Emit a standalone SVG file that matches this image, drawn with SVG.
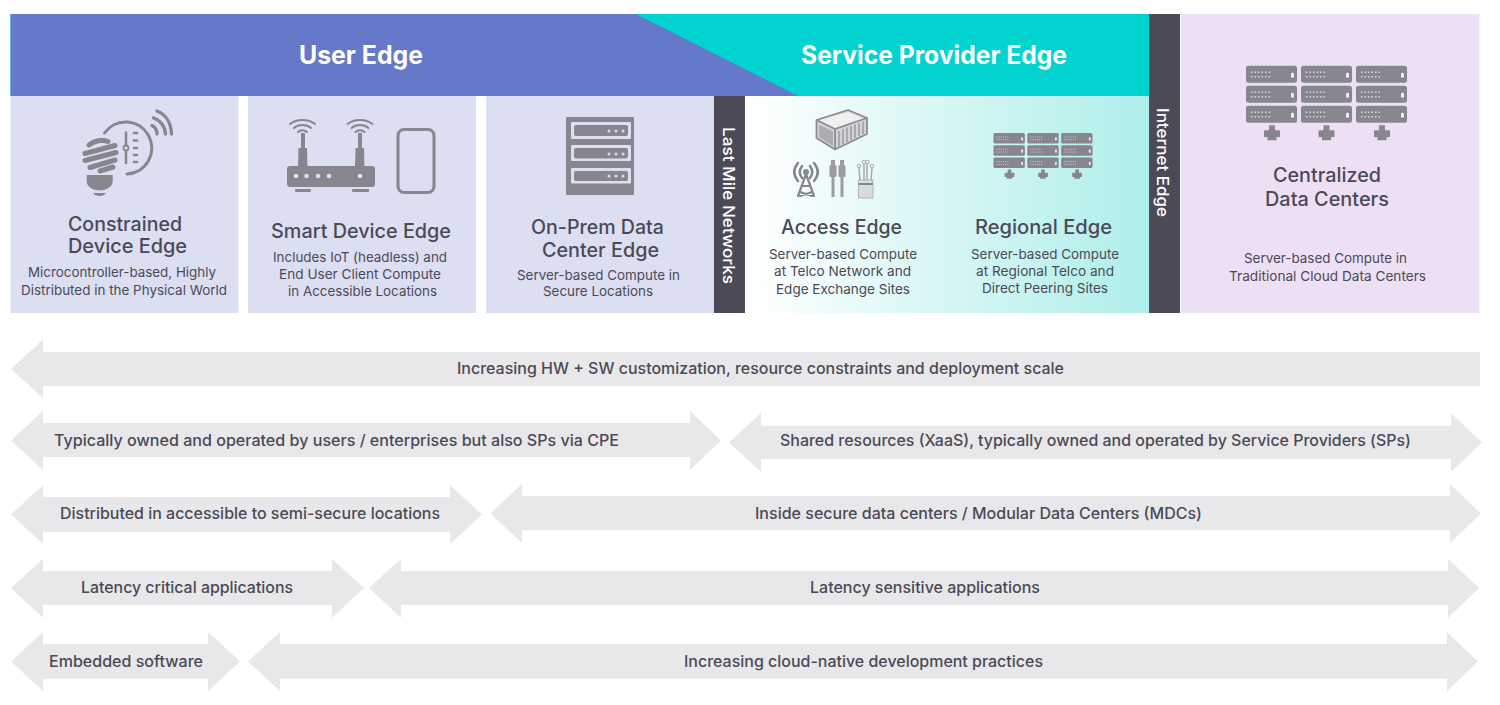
<svg xmlns="http://www.w3.org/2000/svg" width="1500" height="705" viewBox="0 0 1500 705">
<style>
text{font-family:"Inter","Liberation Sans",sans-serif;fill:#4b4956}
.h{font-size:19.5px;font-weight:500}
.s{font-size:13.6px;font-weight:400}
.a{font-size:15.6px;font-weight:500}
.t{font-size:25px;font-weight:700;fill:#fff}
.v{font-size:16.500px;font-weight:500;fill:#fff}
.arrow{fill:#e8e8ea}
.card{fill:#dcdff2}
.dark{fill:#4c4a57}
.ic{fill:#87868e}
.st{fill:none;stroke:#87868e;stroke-linecap:round}
</style>
<defs>
<linearGradient id="sp" x1="0" x2="1" y1="0" y2="0"><stop offset="0" stop-color="#fff"/><stop offset="1" stop-color="#aeeeea"/></linearGradient>
<g id="unit">
<rect width="51" height="17" rx="2.500" class="ic"/>
<path d="M5 6.500H25M5 11H25" stroke="#d9d4de" stroke-width="1.500" stroke-dasharray="1.500 2" fill="none"/>
<rect x="45" y="7" width="3" height="5" rx="1" fill="#f1e8f6"/>
</g>
<path id="foot" class="ic" d="M-3 0H3V5H7Q8 5 8 6V11Q8 12 7 12H4.500V15H-4.500V12H-7Q-8 12 -8 11V6Q-8 5 -7 5H-3Z"/>
<g id="rack">
<use href="#unit" x="0" y="0"/><use href="#unit" x="55" y="0"/><use href="#unit" x="110" y="0"/>
<use href="#unit" x="0" y="20"/><use href="#unit" x="55" y="20"/><use href="#unit" x="110" y="20"/>
<use href="#unit" x="0" y="40"/><use href="#unit" x="55" y="40"/><use href="#unit" x="110" y="40"/>
<use href="#foot" x="26" y="59.500"/><use href="#foot" x="80.500" y="59.500"/><use href="#foot" x="136" y="59.500"/>
</g>
<g id="wifi" class="st" stroke-width="2">
<path d="M-12.500 -9C-6 -14.500 6 -14.500 12.500 -9"/>
<path d="M-8.500 -5C-4 -9 4 -9 8.500 -5"/>
<path d="M-4.500 -1C-2 -3.500 2 -3.500 4.500 -1"/>
</g>
</defs>

<g id="band-user-service">
<rect x="10.500" y="14" width="1138.500" height="82" fill="#00d3d0"/>
<path d="M10.500 14H636L798 96H10.500Z" fill="#6578c9"/>
</g>

<g id="user-edge"><text class="t" x="299" y="64" textLength="124" lengthAdjust="spacingAndGlyphs">User Edge</text></g>
<g id="service-provider-edge"><text class="t" x="801" y="64" textLength="266" lengthAdjust="spacingAndGlyphs">Service Provider Edge</text></g>

<g id="constrained-device-edge">
<rect class="card" x="10.500" y="96" width="228" height="217"/>
<path class="ic" d="M86.700 175H112.700V181C112.700 187 106 190.500 99.700 190.500C93 190.500 86.700 187 86.700 181Z"/>
<path class="ic" d="M93 193H106C104 197 95 197 93 193Z"/>
<path class="st" stroke-width="5" d="M89 145C94 141 102 139 108 141.500M85 153.500L115 145.500M85 160.500L116 152.500M90 167.500L115 160M100 171L113 167"/>
<path class="st" stroke-width="3" d="M104.500 133A26 26 0 1 1 127 174"/>
<path class="st" stroke-width="2.500" d="M126 132.500V163"/>
<circle cx="126" cy="148" r="2.500" fill="#dcdff2" stroke="#87868e" stroke-width="1.800"/>
<path class="st" stroke-width="2.600" d="M134 133H137M134 140.500H137M134 148H137M134 155H137M134 162H137"/>
<path class="st" stroke-width="3.400" d="M152 125.500C155 127 157 130 157 134M153.500 118C160 120 165 126 165.500 134M157 111C165 114 171 122 171.500 134"/>
<text class="h" x="68" y="231" textLength="114" lengthAdjust="spacingAndGlyphs">Constrained</text>
<text class="h" x="68" y="253" textLength="119" lengthAdjust="spacingAndGlyphs">Device Edge</text>
<text class="s" x="28" y="277" textLength="188" lengthAdjust="spacingAndGlyphs">Microcontroller-based, Highly</text>
<text class="s" x="21" y="294.500" textLength="206" lengthAdjust="spacingAndGlyphs">Distributed in the Physical World</text>
</g>

<g id="smart-device-edge">
<rect class="card" x="248" y="96" width="228" height="217"/>
<use href="#wifi" x="302.500" y="133"/><use href="#wifi" x="360" y="133"/>
<path class="ic" d="M301 133H305V148H307L307.500 167H298L298.500 148H301ZM358 133H362V148H364L364.500 167H355L355.500 148H358Z"/>
<rect class="ic" x="287" y="166" width="88" height="21" rx="3"/>
<g fill="#dcdff2"><circle cx="296" cy="176" r="2.300"/><circle cx="306.500" cy="176" r="2.300"/><circle cx="318" cy="176" r="2.300"/><circle cx="329" cy="176" r="2.300"/><circle cx="360" cy="176" r="2.300"/></g>
<rect class="ic" x="295" y="189" width="16" height="3" rx="1"/><rect class="ic" x="352" y="189" width="17" height="3" rx="1"/>
<rect x="398" y="129.500" width="36" height="63" rx="6" fill="none" stroke="#87868e" stroke-width="3"/>
<text class="h" x="271" y="238" textLength="180" lengthAdjust="spacingAndGlyphs">Smart Device Edge</text>
<text class="s" x="273" y="262" textLength="174" lengthAdjust="spacingAndGlyphs">Includes IoT (headless) and</text>
<text class="s" x="279" y="279" textLength="162" lengthAdjust="spacingAndGlyphs">End User Client Compute</text>
<text class="s" x="288" y="296" textLength="149" lengthAdjust="spacingAndGlyphs">in Accessible Locations</text>
</g>

<g id="on-prem-data-center-edge">
<rect class="card" x="486" y="96" width="228" height="217"/>
<rect class="ic" x="566" y="117" width="68" height="78" rx="1"/>
<g fill="#dcdff2"><rect x="571" y="122" width="60" height="17" rx="1"/><rect x="571" y="145" width="60" height="16" rx="1"/><rect x="571" y="168" width="60" height="15.500" rx="1"/></g>
<g class="ic"><rect x="574" y="125" width="54" height="11" rx="2"/><rect x="574" y="148" width="54" height="10.500" rx="2"/><rect x="574" y="171" width="54" height="10" rx="2"/></g>
<g fill="#dcdff2"><circle cx="609" cy="131" r="1.500"/><circle cx="616" cy="131" r="1.500"/><circle cx="623" cy="131" r="1.500"/><circle cx="609" cy="154" r="1.500"/><circle cx="616" cy="154" r="1.500"/><circle cx="623" cy="154" r="1.500"/><circle cx="609" cy="176" r="1.500"/><circle cx="616" cy="176" r="1.500"/><circle cx="623" cy="176" r="1.500"/></g>
<text class="h" x="531" y="234" textLength="133" lengthAdjust="spacingAndGlyphs">On-Prem Data</text>
<text class="h" x="542" y="257" textLength="117" lengthAdjust="spacingAndGlyphs">Center Edge</text>
<text class="s" x="517" y="280" textLength="163" lengthAdjust="spacingAndGlyphs">Server-based Compute in</text>
<text class="s" x="543" y="296" textLength="110" lengthAdjust="spacingAndGlyphs">Secure Locations</text>
</g>

<g id="last-mile-networks">
<rect class="dark" x="714" y="96" width="31" height="217"/>
<text class="v" transform="translate(723 127) rotate(90)" textLength="157" lengthAdjust="spacingAndGlyphs">Last Mile Networks</text>
</g>

<g id="service-provider-panel"><rect x="745" y="96" width="404" height="217" fill="url(#sp)"/></g>

<g id="access-edge">
<path d="M816.500 120L848 110L867 118V134L835 149.500L816.500 138Z" fill="#d4d4d6" stroke="#8d8c94" stroke-width="1.800" stroke-linejoin="round"/>
<path d="M819 120.500L848 112L864 118.500L835 128Z" fill="#f0f0f1"/>
<path d="M816.500 120L835 129L867 118M835 129V149.500" fill="none" stroke="#8d8c94" stroke-width="1.800"/>
<path d="M819 125L833 131V146L819 137Z" fill="#adacb2"/>
<path d="M839 131V146M843 129V144M847 127.500V142M851 126V140M855 124.500V138M859 123V136M863 121.500V134" stroke="#8d8c94" stroke-width="1.200" fill="none"/>
<path class="st" stroke-width="2.500" d="M798 163C793 169 793 175 798 181M814 163C819 169 819 175 814 181M802 166C799 170 799 174 802 178M810 166C813 170 813 174 810 178"/>
<circle class="ic" cx="806" cy="172" r="3"/>
<path class="st" stroke-width="2.200" d="M806 174L798 196M806 174L814 196M802 186H810M800 192L812 196M812 192L800 196"/>
<g fill="#9c9ba2"><rect x="831" y="160" width="4" height="5"/><rect x="829.500" y="165" width="7" height="12" rx="1.500"/><rect x="840" y="160" width="4" height="5"/><rect x="838.500" y="165" width="7" height="12" rx="1.500"/><rect x="831.500" y="177" width="3" height="20"/><rect x="840.500" y="177" width="3" height="20"/></g>
<rect x="858.500" y="180" width="14.500" height="18" fill="#d9dcdc" stroke="#b4b4b9"/>
<path d="M860 180L859 168M864 180V164M867 180V164M871 180L872 168" stroke="#a8a8ae" stroke-width="1.500" fill="none"/>
<g fill="none" stroke="#a8a8ae" stroke-width="1"><circle cx="859" cy="166" r="1.800"/><circle cx="864" cy="162" r="1.800"/><circle cx="867.500" cy="162" r="1.800"/><circle cx="872" cy="166" r="1.800"/></g>
<path d="M858.500 184H873" stroke="#87868e" stroke-width="2"/>
<text class="h" x="781" y="234" textLength="121" lengthAdjust="spacingAndGlyphs">Access Edge</text>
<text class="s" x="769" y="259" textLength="148" lengthAdjust="spacingAndGlyphs">Server-based Compute</text>
<text class="s" x="774" y="276" textLength="137" lengthAdjust="spacingAndGlyphs">at Telco Network and</text>
<text class="s" x="776" y="294" textLength="134" lengthAdjust="spacingAndGlyphs">Edge Exchange Sites</text>
</g>

<g id="regional-edge">
<use href="#rack" transform="translate(993.500 133) scale(.615)"/>
<text class="h" x="975" y="234" textLength="137" lengthAdjust="spacingAndGlyphs">Regional Edge</text>
<text class="s" x="971" y="259" textLength="148" lengthAdjust="spacingAndGlyphs">Server-based Compute</text>
<text class="s" x="976" y="276" textLength="138" lengthAdjust="spacingAndGlyphs">at Regional Telco and</text>
<text class="s" x="982" y="293" textLength="126" lengthAdjust="spacingAndGlyphs">Direct Peering Sites</text>
</g>

<g id="internet-edge">
<rect class="dark" x="1149" y="14" width="31" height="299"/>
<text class="v" transform="translate(1157 108) rotate(90)" textLength="109" lengthAdjust="spacingAndGlyphs">Internet Edge</text>
</g>

<g id="centralized-data-centers">
<rect x="1181" y="14" width="298.500" height="299" fill="#eee0f4"/>
<use href="#rack" transform="translate(1246 65.700)"/>
<text class="h" x="1273" y="182" textLength="108" lengthAdjust="spacingAndGlyphs">Centralized</text>
<text class="h" x="1265" y="206" textLength="124" lengthAdjust="spacingAndGlyphs">Data Centers</text>
<text class="s" x="1244" y="263" textLength="163" lengthAdjust="spacingAndGlyphs">Server-based Compute in</text>
<text class="s" x="1229" y="281" textLength="197" lengthAdjust="spacingAndGlyphs">Traditional Cloud Data Centers</text>
</g>

<g id="connectors" class="arrow">
<polygon points="11,369 43,339.500 43,352 1480,352 1480,386 43,386 43,398"/>
<polygon points="11,440.500 43,411 43,423 690,423 690,411 721,440.500 690,470 690,457 43,457 43,470"/>
<polygon points="729,442.500 761,413 761,425.700 1451,425.700 1451,413 1482,442.500 1451,472 1451,459 761,459 761,472"/>
<polygon points="11,514.500 43,485 43,497 450,497 450,485 482,514.500 450,544 450,531.700 43,531.700 43,544"/>
<polygon points="490.500,513.500 522,484 522,496 1450,496 1450,484 1481,513.500 1450,543 1450,530 522,530 522,543"/>
<polygon points="11,588 43,558.700 43,571 332,571 332,558.700 364,588 332,617.700 332,605 43,605 43,617.700"/>
<polygon points="369,588 401,558.700 401,571 1448,571 1448,558.700 1479,588 1448,617.700 1448,605 401,605 401,617.700"/>
<polygon points="11,661.500 43,632 43,644.300 208,644.300 208,632 240,661.500 208,691 208,678.700 43,678.700 43,691"/>
<polygon points="248,661.500 280,632 280,644.300 1447,644.300 1447,632 1478,661.500 1447,691 1447,678.700 280,678.700 280,691"/>
</g>

<g id="arrow-labels">
<text class="a" x="457" y="374" textLength="607" lengthAdjust="spacingAndGlyphs">Increasing HW + SW customization, resource constraints and deployment scale</text>
<text class="a" x="54" y="446" textLength="565" lengthAdjust="spacingAndGlyphs">Typically owned and operated by users / enterprises but also SPs via CPE</text>
<text class="a" x="780" y="446" textLength="631" lengthAdjust="spacingAndGlyphs">Shared resources (XaaS), typically owned and operated by Service Providers (SPs)</text>
<text class="a" x="60" y="519" textLength="380" lengthAdjust="spacingAndGlyphs">Distributed in accessible to semi-secure locations</text>
<text class="a" x="755" y="519" textLength="447" lengthAdjust="spacingAndGlyphs">Inside secure data centers / Modular Data Centers (MDCs)</text>
<text class="a" x="81" y="593" textLength="212" lengthAdjust="spacingAndGlyphs">Latency critical applications</text>
<text class="a" x="810" y="593" textLength="230" lengthAdjust="spacingAndGlyphs">Latency sensitive applications</text>
<text class="a" x="49" y="667" textLength="154" lengthAdjust="spacingAndGlyphs">Embedded software</text>
<text class="a" x="684" y="667" textLength="359" lengthAdjust="spacingAndGlyphs">Increasing cloud-native development practices</text>
</g>
</svg>
